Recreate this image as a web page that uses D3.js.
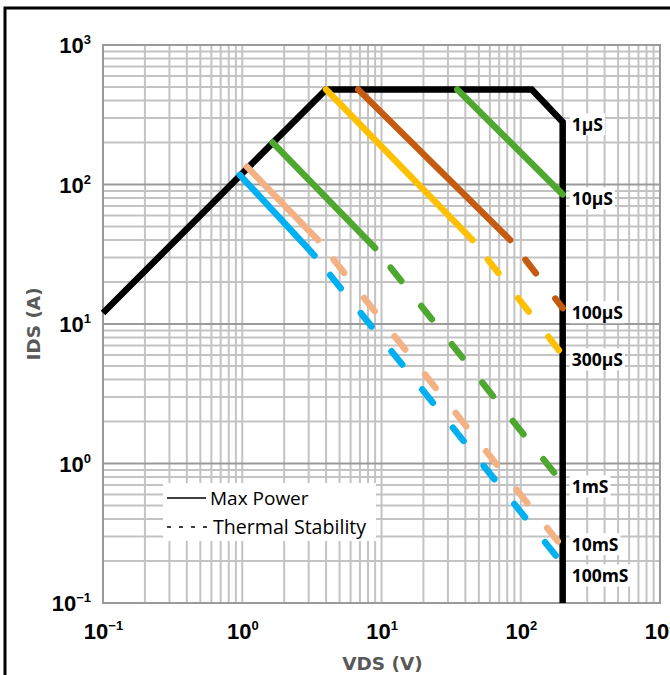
<!DOCTYPE html>
<html>
<head>
<meta charset="utf-8">
<script src="https://cdn.jsdelivr.net/npm/d3@7/dist/d3.min.js"></script>
<style>
body { margin: 0; background: #fff; }
svg { display: block; }
</style>
</head>
<body>
<svg width="670" height="675"></svg>
<script>
// decade ticks and their exponents
var decades = [0.1, 1, 10, 100, 1000];
var decadeExp = ["\u22121", "0", "1", "2", "3"];

// max power boundary (VDS, IDS)
var boundaryV = [0.1, 4, 120, 200, 200];
var boundaryI = [12, 480, 480, 280, 0.1];

// pulse curves: solid part (max power) then dashed part (thermal stability)
var pulseColors = ["#4ea72e", "#c55a11", "#ffc000", "#4ea72e", "#f4b183", "#00b0f0"];
var solidV = [[35, 200], [6.8, 84], [4, 45], [1.65, 9], [1.08, 3.5], [0.96, 3.3]];
var solidI = [[480, 85], [480, 40], [480, 40], [200, 35], [134, 40], [117, 31]];
var dashV = [[], [84, 200], [45, 200], [9, 200], [3.5, 200], [3.3, 200]];
var dashI = [[], [40, 13], [40, 6], [35, 0.72], [40, 0.25], [31, 0.19]];

// curve labels at VDS = 200
var labelNames = ["1\u00b5S", "10\u00b5S", "100\u00b5S", "300\u00b5S", "1mS", "10mS", "100mS"];
var labelI = [267, 78.7, 12, 5.52, 0.679, 0.261, 0.156];

var svg = d3.select("svg");

var x = d3.scaleLog().domain([0.1, 1000]).range([103, 660]);
var y = d3.scaleLog().domain([0.1, 1000]).range([603, 45]);

// outer frame
svg.append("rect")
  .attr("x", 5).attr("y", 8).attr("width", 700).attr("height", 700)
  .attr("fill", "none").attr("stroke", "#000").attr("stroke-width", 3);

var gridV = x.ticks();
var gridH = y.ticks();

svg.append("g").selectAll("line")
  .data(gridV)
  .enter().append("line")
  .attr("x1", function(d) { return x(d); })
  .attr("x2", function(d) { return x(d); })
  .attr("y1", y(0.1)).attr("y2", y(1000))
  .attr("stroke", "#c3c3c3").attr("stroke-width", 2);

svg.append("g").selectAll("line")
  .data(gridH)
  .enter().append("line")
  .attr("x1", x(0.1)).attr("x2", x(1000))
  .attr("y1", function(d) { return y(d); })
  .attr("y2", function(d) { return y(d); })
  .attr("stroke", function(d) { return decades.indexOf(d) >= 0 ? "#9a9a9a" : "#c3c3c3"; })
  .attr("stroke-width", 2);

// plot border
svg.append("rect")
  .attr("x", x(0.1)).attr("y", y(1000))
  .attr("width", x(1000) - x(0.1)).attr("height", y(0.1) - y(1000))
  .attr("fill", "none").attr("stroke", "#9a9a9a").attr("stroke-width", 2);

var line = d3.line()
  .x(function(d) { return x(d[0]); })
  .y(function(d) { return y(d[1]); });

// max power boundary
svg.append("path")
  .attr("d", line(d3.zip(boundaryV, boundaryI)))
  .attr("fill", "none").attr("stroke", "#000")
  .attr("stroke-width", 6.5).attr("stroke-linejoin", "miter");

// dashed parts
svg.append("g").selectAll("path")
  .data(d3.range(pulseColors.length).filter(function(i) { return dashV[i].length; }))
  .enter().append("path")
  .attr("d", function(i) { return line(d3.zip(dashV[i], dashI[i])); })
  .attr("fill", "none")
  .attr("stroke", function(i) { return pulseColors[i]; })
  .attr("stroke-width", 6.5)
  .attr("stroke-linecap", "round")
  .attr("stroke-dasharray", "17,32")
  .attr("stroke-dashoffset", 24);

// solid parts
svg.append("g").selectAll("path")
  .data(d3.range(pulseColors.length))
  .enter().append("path")
  .attr("d", function(i) { return line(d3.zip(solidV[i], solidI[i])); })
  .attr("fill", "none")
  .attr("stroke", function(i) { return pulseColors[i]; })
  .attr("stroke-width", 6.5)
  .attr("stroke-linecap", "round");

// curve labels with white boxes
var labels = svg.append("g").selectAll("g")
  .data(labelNames)
  .enter().append("g")
  .attr("transform", function(d, i) { return "translate(" + (x(200) + 9) + "," + y(labelI[i]) + ")"; });

labels.append("text")
  .attr("dy", "0.36em")
  .attr("font-family", "'Open Sans', sans-serif")
  .attr("font-weight", 700)
  .attr("font-size", 17.5)
  .attr("fill", "#000")
  .text(function(d) { return d; })
  .each(function() {
    var b = this.getBBox();
    d3.select(this.parentNode).insert("rect", "text")
      .attr("x", b.x - 2).attr("y", b.y + 1)
      .attr("width", b.width + 4).attr("height", b.height - 2)
      .attr("fill", "#fff");
  });

// legend
var legend = svg.append("g");
legend.append("rect")
  .attr("x", 163).attr("y", 483).attr("width", 213).attr("height", 58)
  .attr("fill", "#fff");
legend.append("line")
  .attr("x1", 167).attr("x2", 206).attr("y1", 498).attr("y2", 498)
  .attr("stroke", "#000").attr("stroke-width", 1.5);
legend.append("line")
  .attr("x1", 167).attr("x2", 208).attr("y1", 527).attr("y2", 527)
  .attr("stroke", "#000").attr("stroke-width", 1.5)
  .attr("stroke-dasharray", "4,8");
legend.selectAll("text")
  .data(["Max Power", "Thermal Stability"])
  .enter().append("text")
  .attr("x", function(d, i) { return 210 + i * 3; })
  .attr("y", function(d, i) { return 498 + i * 29; })
  .attr("dy", "0.36em")
  .attr("font-family", "'Open Sans', sans-serif")
  .attr("font-size", function(d, i) { return i ? 19.6 : 19; })
  .attr("fill", "#000")
  .text(function(d) { return d; });

// tick labels
function powerLabel(sel) {
  sel.text(null);
  sel.append("tspan").text("10");
  sel.append("tspan")
    .attr("dy", -9).attr("font-size", 13)
    .text(function(d) { return decadeExp[decades.indexOf(d)]; });
}

var xAxis = svg.append("g")
  .attr("transform", "translate(0," + (y(0.1) + 21) + ")")
  .call(d3.axisBottom(x).tickValues(decades).tickSize(0).tickFormat(function() { return ""; }));
xAxis.select(".domain").remove();
xAxis.selectAll("text")
  .attr("font-family", "'Liberation Sans', sans-serif")
  .attr("font-weight", 700).attr("font-size", 22)
  .attr("fill", "#000")
  .attr("dy", "0.55em")
  .call(powerLabel);

var yAxis = svg.append("g")
  .attr("transform", "translate(91,0)")
  .call(d3.axisLeft(y).tickValues(decades).tickSize(0).tickFormat(function() { return ""; }));
yAxis.select(".domain").remove();
yAxis.selectAll("text")
  .attr("font-family", "'Liberation Sans', sans-serif")
  .attr("font-weight", 700).attr("font-size", 22)
  .attr("fill", "#000")
  .attr("x", 0)
  .attr("dy", "0.36em")
  .call(powerLabel);

// axis titles
svg.append("text")
  .attr("x", (x(0.1) + x(1000)) / 2 + 1).attr("y", 670)
  .attr("text-anchor", "middle")
  .attr("font-family", "'DejaVu Sans', sans-serif")
  .attr("font-weight", 700).attr("font-size", 18.5)
  .attr("fill", "#595959")
  .text("VDS (V)");

svg.append("text")
  .attr("transform", "translate(40," + y(10) + ") rotate(-90)")
  .attr("text-anchor", "middle")
  .attr("font-family", "'DejaVu Sans', sans-serif")
  .attr("font-weight", 700).attr("font-size", 18.5)
  .attr("fill", "#595959")
  .text("IDS (A)");
</script>
</body>
</html>
